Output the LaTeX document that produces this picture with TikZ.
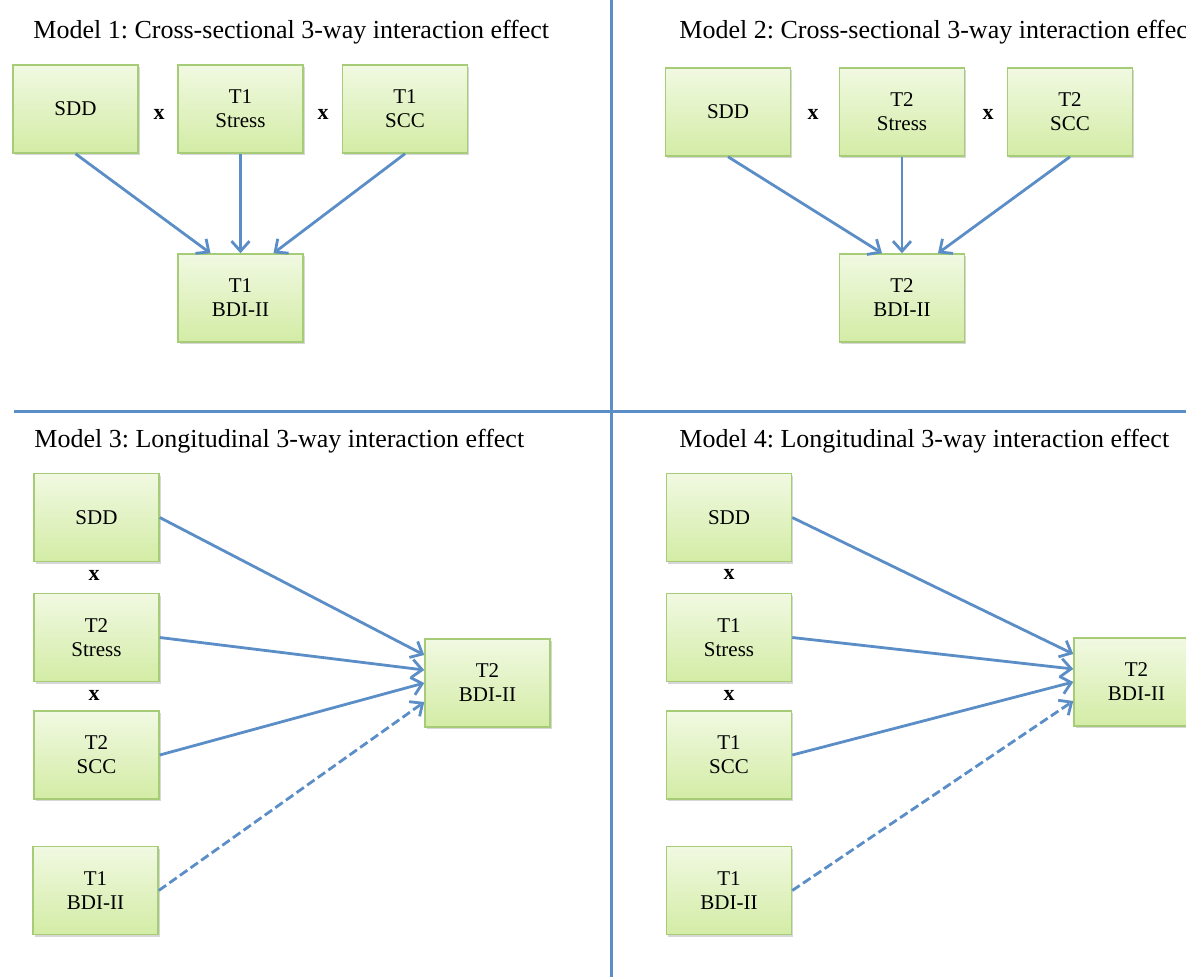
\documentclass[tikz,border=0pt]{standalone}
\usepackage{fontspec}
\setmainfont{Liberation Serif}
\usepackage{xcolor}
\usepackage{tikz}
\usetikzlibrary{positioning}
\usetikzlibrary{arrows.meta}
\usetikzlibrary{shadows}
\frenchspacing
\definecolor{boxtop}{HTML}{F1F9E2}
\definecolor{boxbot}{HTML}{D3ECA5}
\definecolor{boxline}{HTML}{A7CC78}
\definecolor{linkblue}{HTML}{5B8DC6}
\tikzset{
    mynode/.style = {rectangle, draw=boxline, line width=1.5pt, top color=boxtop, bottom color=boxbot, align=center, minimum width=125pt, minimum height=88pt, inner sep=0pt, font=\fontsize{21}{24}\selectfont, drop shadow={shadow xshift=1.5pt, shadow yshift=-2pt, fill=black!45, opacity=0.35}},
    titlenode/.style = {anchor=base west, inner sep=0pt, font=\fontsize{26}{30}\selectfont},
    timesnode/.style = {inner sep=0pt, font=\fontsize{22}{24}\selectfont\bfseries},
}

\begin{document}
\begin{tikzpicture}[
	x=1pt,
	y=-1pt,
	thick
]
\tikzset{
    edgen/.style = {-{Straight Barb[length=10pt,width=18pt]}, line width=2.8pt, linkblue},
    edged/.style = {edgen, dash pattern=on 9pt off 4pt},
    sepline/.style = {line width=3pt, linkblue}
}
\useasboundingbox (0,0) rectangle (1186,977);
\clip (0,0) rectangle (1186,977);
%
\draw[sepline] (611,0) -- (611,977);
\draw[sepline] (14,411) -- (1186,411);
%
\node[titlenode] at (33,38) (titlea) {Model 1: Cross-sectional 3-way interaction effect};
\node[mynode] at (75.5,109) (sdda) {SDD};
\node[mynode] at (240.5,109) (stressa) {T1\\Stress};
\node[mynode] at (405,109) (scca) {T1\\SCC};
\node[mynode] at (240.5,298) (bdia) {T1\\BDI-II};
\node[timesnode] at (159,114) (xaa) {x};
\node[timesnode] at (323,114) (xab) {x};
%
\draw[edgen] (sdda.south) -- ([xshift=-30pt]bdia.north);
\draw[edgen] (stressa.south) -- (bdia.north);
\draw[edgen] (scca.south) -- ([xshift=33pt]bdia.north);
%
\node[titlenode] at (679,38) (titleb) {Model 2: Cross-sectional 3-way interaction effect};
\node[mynode] at (728,112) (sddb) {SDD};
\node[mynode] at (902,112) (stressb) {T2\\Stress};
\node[mynode] at (1070,112) (sccb) {T2\\SCC};
\node[mynode] at (902,298) (bdib) {T2\\BDI-II};
\node[timesnode] at (813,114) (xba) {x};
\node[timesnode] at (988,114) (xbb) {x};
%
\draw[edgen] (sddb.south) -- ([xshift=-20pt]bdib.north);
\draw[edgen] (stressb.south) -- (bdib.north);
\draw[edgen] (sccb.south) -- ([xshift=36pt]bdib.north);
%
\node[titlenode] at (34,447) (titlec) {Model 3: Longitudinal 3-way interaction effect};
\node[mynode] at (96.5,517.5) (sddc) {SDD};
\node[mynode] at (96.5,637.5) (stressc) {T2\\Stress};
\node[mynode] at (96.5,755) (sccc) {T2\\SCC};
\node[mynode] at (95.5,890.5) (bdioldc) {T1\\BDI-II};
\node[mynode] at (487.5,683) (bdic) {T2\\BDI-II};
\node[timesnode] at (94,575) (xca) {x};
\node[timesnode] at (94,695) (xcb) {x};
%
\draw[edgen] (sddc.east) -- ([yshift=28pt]bdic.west);
\draw[edgen] (stressc.east) -- ([yshift=13pt]bdic.west);
\draw[edgen] (sccc.east) -- (bdic.west);
\draw[edged] (bdioldc.east) -- ([yshift=-19pt]bdic.west);
%
\node[titlenode] at (679,447) (titled) {Model 4: Longitudinal 3-way interaction effect};
\node[mynode] at (729,517.5) (sddd) {SDD};
\node[mynode] at (729,637.5) (stressd) {T1\\Stress};
\node[mynode] at (729,755) (sccd) {T1\\SCC};
\node[mynode] at (729,890.5) (bdioldd) {T1\\BDI-II};
\node[mynode] at (1136.5,682) (bdid) {T2\\BDI-II};
\node[timesnode] at (729,574) (xda) {x};
\node[timesnode] at (729,695) (xdb) {x};
%
\draw[edgen] (sddd.east) -- ([yshift=28pt]bdid.west);
\draw[edgen] (stressd.east) -- ([yshift=13pt]bdid.west);
\draw[edgen] (sccd.east) -- (bdid.west);
\draw[edged] (bdioldd.east) -- ([yshift=-19pt]bdid.west);
\end{tikzpicture}
\end{document}
